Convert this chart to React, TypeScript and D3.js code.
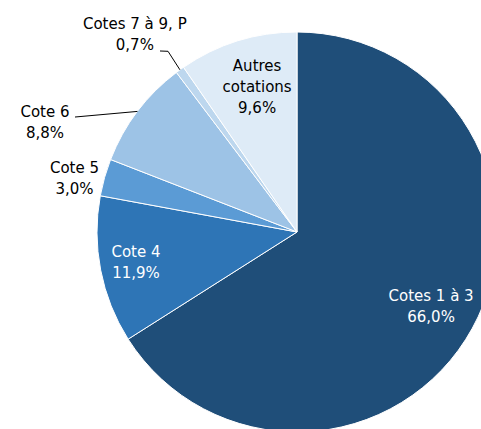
import React from "react";
import * as d3 from "d3";

const categories = ["Cotes 1 à 3", "Cote 4", "Cote 5", "Cote 6", "Cotes 7 à 9, P", "Autres cotations"];
const values = [66.0, 11.9, 3.0, 8.8, 0.7, 9.6];
const labelLines = [["Cotes 1 à 3"], ["Cote 4"], ["Cote 5"], ["Cote 6"], ["Cotes 7 à 9, P"], ["Autres", "cotations"]];
const colors = ["#1f4e79", "#2e75b6", "#5b9bd5", "#9dc3e6", "#bdd7ee", "#deebf7"];
const textColors = ["#ffffff", "#ffffff", "#000000", "#000000", "#000000", "#000000"];

// label layout: angle offset from slice mid (deg), radius factor
const labelPolar = [
  [0.4, 0.768],
  [0.1, 0.82],
  [-2.2, 1.145],
  [-13.5, 1.375],
  [-3.6, 1.277],
  [1.9, 0.752],
];
// leader polylines: list of [angle offset from mid (deg), radius factor]
const leaders: Record<number, number[][]> = {
  3: [[0, 1], [-9.7, 1.25]],
  4: [[0, 1], [0.3, 1.11], [-1.3, 1.135]],
};

const W = 481, H = 429;
const cx = 297, cy = 232, R = 200;
const fmt = (v: number) => v.toFixed(1).replace(".", ",") + "%";

export default function App() {
  const pie = d3.pie<number>().sort(null).value((d) => d);
  const arcs = pie(values);
  const arc = d3.arc<d3.PieArcDatum<number>>().innerRadius(0).outerRadius(R);
  const polar = (a: number, r: number) => [Math.sin(a) * r, -Math.cos(a) * r];
  const rad = (deg: number) => (deg * Math.PI) / 180;
  const lh = 21;

  return (
    <svg width={W} height={H} style={{ position: "absolute", left: 0, top: 0, background: "#fff" }}
      fontFamily="DejaVu Sans, Verdana, sans-serif" fontSize={15}>
      <g transform={`translate(${cx},${cy})`}>
        {arcs.map((a, i) => (
          <path key={categories[i]} d={arc(a) || ""} fill={colors[i]} stroke="#ffffff" strokeWidth={1} />
        ))}
        {arcs.map((a, i) => {
          const mid = (a.startAngle + a.endAngle) / 2;
          const pts = leaders[i];
          if (!pts) return null;
          const line = d3.line()(pts.map(([da, rf]) => polar(mid + rad(da), R * rf) as [number, number]));
          return <path key={"l" + i} d={line || ""} fill="none" stroke="#000" strokeWidth={1} />;
        })}
        {arcs.map((a, i) => {
          const mid = (a.startAngle + a.endAngle) / 2;
          const [da, rf] = labelPolar[i];
          const [x, y] = polar(mid + rad(da), R * rf);
          const lines = [...labelLines[i], fmt(values[i])];
          const y0 = y - ((lines.length - 1) * lh) / 2;
          return (
            <text key={"t" + i} x={x} y={y0} textAnchor="middle" fill={textColors[i]} dominantBaseline="central">
              {lines.map((t, j) => (
                <tspan key={j} x={x} y={y0 + j * lh}>{t}</tspan>
              ))}
            </text>
          );
        })}
      </g>
    </svg>
  );
}
